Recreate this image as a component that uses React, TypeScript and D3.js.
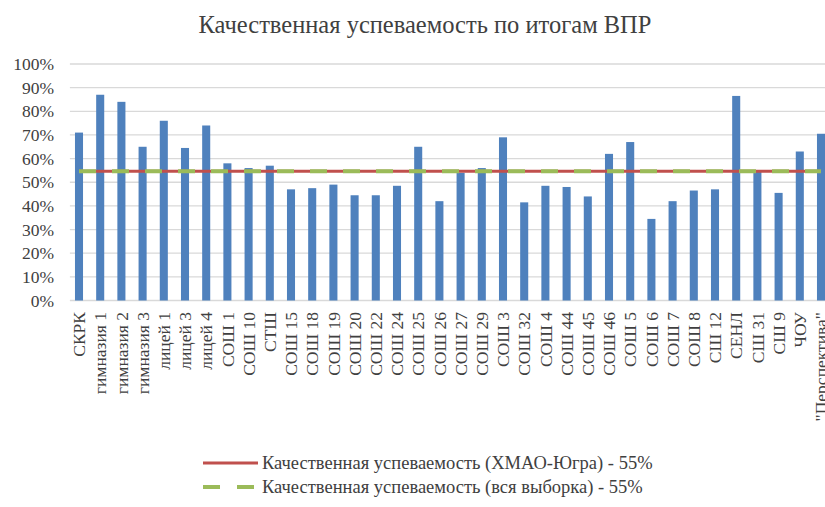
import React from "react";
import * as d3 from "d3";

const categories = [
  "СКРК", "гимназия 1", "гимназия 2", "гимназия 3", "лицей 1", "лицей 3", "лицей 4",
  "СОШ 1", "СОШ 10", "СТШ", "СОШ 15", "СОШ 18", "СОШ 19", "СОШ 20", "СОШ 22", "СОШ 24",
  "СОШ 25", "СОШ 26", "СОШ 27", "СОШ 29", "СОШ 3", "СОШ 32", "СОШ 4", "СОШ 44", "СОШ 45",
  "СОШ 46", "СОШ 5", "СОШ 6", "СОШ 7", "СОШ 8", "СШ 12", "СЕНЛ", "СШ 31", "СШ 9", "ЧОУ",
  "\"Перспектива\"",
];
const values = [
  71, 87, 84, 65, 76, 64.5, 74,
  58, 56, 57, 47, 47.5, 49, 44.5, 44.5, 48.5,
  65, 42, 54, 56, 69, 41.5, 48.5, 48, 44,
  62, 67, 34.5, 42, 46.5, 47, 86.5, 54.5, 45.5, 63,
  70.5,
];
const yTicks = [0, 10, 20, 30, 40, 50, 60, 70, 80, 90, 100];
const regionAvg = 54.6;
const sampleAvg = 54.6;
const title = "Качественная успеваемость по итогам ВПР";
const legendLabels = [
  "Качественная успеваемость (ХМАО-Югра) - 55%",
  "Качественная успеваемость (вся выборка) - 55%",
];

const W = 825;
const H = 507;
const FONT = "'Liberation Serif', 'Times New Roman', serif";
const BLUE = "#4F81BD";
const RED = "#C0504D";
const GREEN = "#9BBB59";
const GRID = "#D9D9D9";
const TEXT = "#404040";

export default function App() {
  const x = d3
    .scaleBand<string>()
    .domain(categories)
    .range([68.4, 68.4 + 21.2 * categories.length])
    .paddingInner(0.62)
    .paddingOuter(0.31);
  const y = d3.scaleLinear().domain([0, 100]).range([300.5, 64]);
  const cx = (c: string) => (x(c) as number) + x.bandwidth() / 2;
  const firstC = cx(categories[0]);
  const lastC = cx(categories[categories.length - 1]);
  const [r0, r1] = x.range();

  return (
    <svg
      width={W}
      height={H}
      style={{ position: "absolute", left: 0, top: 0, background: "#fff" }}
      fontFamily={FONT}
    >
      <rect width={W} height={H} fill="#fff" />
      <text x={425} y={33} textAnchor="middle" fontSize={24.5} fill={TEXT}>
        {title}
      </text>
      {yTicks.map((t) => (
        <g key={t}>
          <line x1={r0 + 1.5} x2={r1} y1={y(t)} y2={y(t)} stroke={GRID} strokeWidth={1.3} />
          <text
            x={54}
            y={y(t)}
            dy="0.35em"
            textAnchor="end"
            fontSize={17.5}
            fill={TEXT}
          >
            {t + "%"}
          </text>
        </g>
      ))}
      {categories.map((c, i) => (
        <rect
          key={c}
          x={x(c)}
          y={y(values[i])}
          width={x.bandwidth()}
          height={y(0) - y(values[i])}
          fill={BLUE}
        />
      ))}
      <line x1={firstC} x2={lastC} y1={y(regionAvg)} y2={y(regionAvg)} stroke={RED} strokeWidth={3} />
      <line
        x1={firstC}
        x2={lastC}
        y1={y(sampleAvg)}
        y2={y(sampleAvg)}
        stroke={GREEN}
        strokeWidth={4}
        strokeDasharray="17 16"
      />
      {categories.map((c) => (
        <text
          key={"l" + c}
          transform={`translate(${cx(c)},${312}) rotate(-90)`}
          dy="0.35em"
          textAnchor="end"
          fontSize={17.5}
          fill={TEXT}
        >
          {c}
        </text>
      ))}
      <line x1={203} x2={258} y1={463} y2={463} stroke={RED} strokeWidth={3} />
      <text x={262} y={463} dy="0.35em" fontSize={18.5} fill={TEXT}>
        {legendLabels[0]}
      </text>
      <line
        x1={203}
        x2={258}
        y1={487}
        y2={487}
        stroke={GREEN}
        strokeWidth={4}
        strokeDasharray="17 17"
      />
      <text x={262} y={487} dy="0.35em" fontSize={18.5} fill={TEXT}>
        {legendLabels[1]}
      </text>
    </svg>
  );
}
